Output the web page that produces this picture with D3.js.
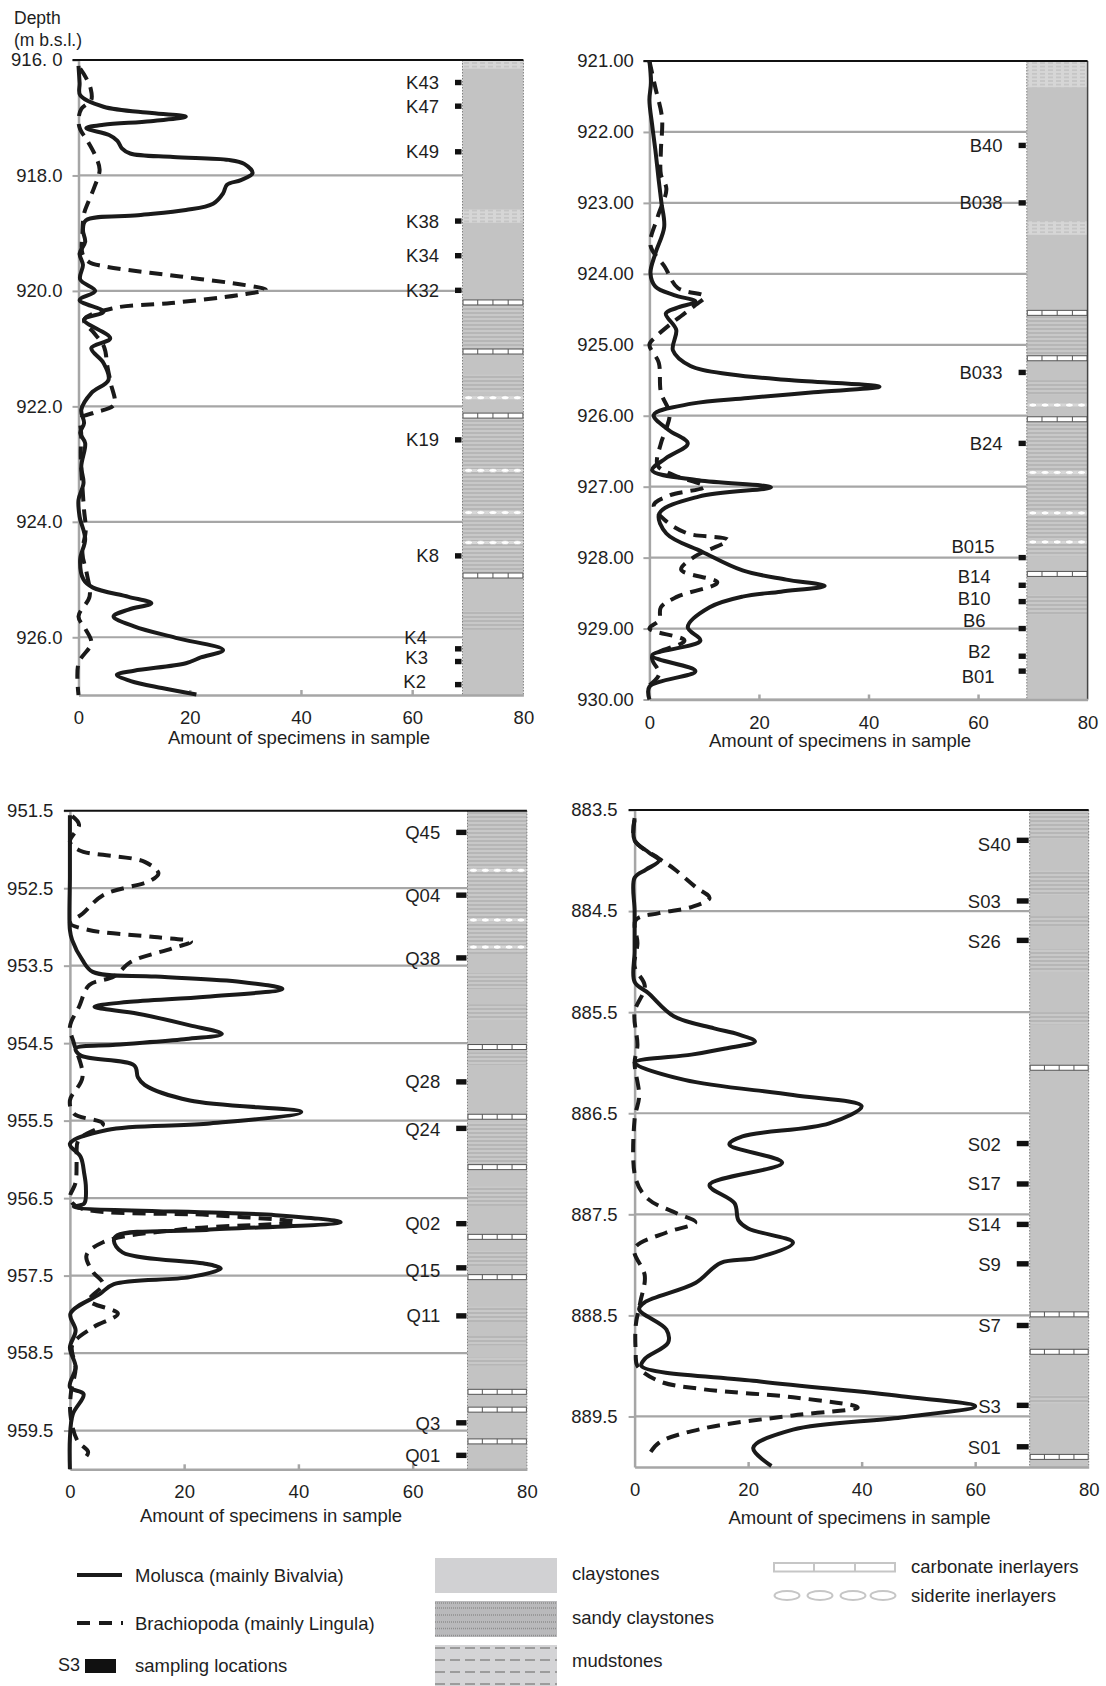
<!DOCTYPE html>
<html><head><meta charset="utf-8">
<script src="https://cdn.jsdelivr.net/npm/d3@7"></script>
<style>
body{margin:0;background:#fff}
text{font-family:"Liberation Sans",Arial,Helvetica,sans-serif;fill:#1e1e1e}
</style>
</head><body>
<svg id="c" width="1106" height="1686"></svg>
<script>
// ---------------- DATA ----------------
const xTicks = [0, 20, 40, 60, 80];
const xTitle = "Amount of specimens in sample";

// Panel K (top-left)
const kTicks = [916, 918, 920, 922, 924, 926];
const kTickLabels = ["916. 0", "918.0", "920.0", "922.0", "924.0", "926.0"];
const k_molusca = [[916.1,0],[916.4,0.2],[916.61,0.3],[916.81,4.5],[916.92,13.2],[916.98,19.3],[917.06,13],[917.12,4.5],[917.18,1.4],[917.3,5.5],[917.4,7],[917.53,7.8],[917.62,9.3],[917.68,17],[917.73,27],[917.8,29.8],[917.96,31.3],[918.08,29.2],[918.16,26.7],[918.31,26],[918.49,24.2],[918.6,19.3],[918.69,10.7],[918.78,1.3],[918.95,0.8],[919.15,1.2],[919.35,0.2],[919.55,0.8],[919.8,0.3],[920.0,3.0],[920.16,0.2],[920.36,4.5],[920.5,1.0],[920.82,5.7],[920.99,2.3],[921.25,4.5],[921.54,5.4],[921.77,2.3],[922.06,0.5],[922.29,1.0],[922.46,0.3],[922.64,1.2],[923.04,0.5],[923.33,0.9],[923.62,0],[923.91,0.2],[924.3,1.2],[924.65,0.3],[925.0,0.9],[925.14,2.6],[925.3,9],[925.41,13.1],[925.52,9],[925.64,6.3],[925.81,10],[926.01,17.5],[926.22,26],[926.35,22],[926.45,19.3],[926.58,10],[926.65,6.9],[926.76,9.4],[926.88,15],[926.99,21.2]];
const k_brachiopoda = [[916.15,0.3],[916.3,1.3],[916.5,2.2],[916.69,2.3],[916.85,0.5],[917.04,0],[917.2,0.3],[917.4,1.6],[917.65,3],[917.9,3.8],[918.19,2.9],[918.45,1.8],[918.66,1.0],[919.0,0.7],[919.35,0.7],[919.5,1.9],[919.57,4.4],[919.75,18.3],[919.9,30],[919.98,33.7],[920.07,29],[920.21,16.7],[920.3,6.2],[920.5,1.0],[920.73,2.8],[920.97,4.6],[921.31,5.2],[921.6,5.8],[921.97,6.4],[922.11,2.8],[922.2,0.5],[922.5,0.5],[922.81,0.4],[923.1,0.5],[923.39,0.7],[923.8,1.0],[924.14,1.3],[924.54,0.7],[924.9,1.5],[925.29,2.0],[925.64,0],[925.85,1.2],[926.1,2.3],[926.45,0],[927.0,0]];
const k_samples = [["K43",916.39,916.39],["K47",916.8,916.8],["K49",917.59,917.59],["K38",918.79,918.79],["K34",919.39,919.39],["K32",919.99,919.99],["K19",922.58,922.58],["K8",924.59,924.59],["K4",926.2,926.0],["K3",926.42,926.35],["K2",926.82,926.77]];
const k_litho = [["mud",916.0,916.15],["mud",918.59,918.82],["sandy",920.25,921.0],["sandy",921.45,921.75],["sandy",922.2,924.85],["sandy",925.55,925.87]];
const k_layers = [["carbonate",920.2],["carbonate",921.05],["carbonate",922.16],["carbonate",924.93],["siderite",921.85],["siderite",923.11],["siderite",923.84],["siderite",924.36]];

// Panel B (top-right)
const bTicks = [921, 922, 923, 924, 925, 926, 927, 928, 929, 930];
const bTickLabels = ["921.00","922.00","923.00","924.00","925.00","926.00","927.00","928.00","929.00","930.00"];
const b_molusca = [[921.0,0],[921.3,0.3],[921.55,0],[921.9,0.5],[922.26,1.1],[922.68,1.7],[923.0,2.2],[923.34,2.7],[923.71,1.1],[923.99,0.2],[924.18,1.1],[924.3,4.5],[924.39,8.4],[924.48,5],[924.56,3.0],[924.79,4.9],[925.08,4.3],[925.3,7.5],[925.42,15],[925.5,26],[925.59,42],[925.67,30],[925.75,18],[925.83,7.7],[925.99,0.8],[926.2,3.5],[926.39,7.0],[926.6,3],[926.77,0.5],[926.91,9.0],[927.01,22.2],[927.14,9.0],[927.38,1.8],[927.66,3.1],[927.92,9.7],[928.18,17],[928.31,25],[928.4,32],[928.48,24],[928.55,17],[928.7,11],[928.98,7],[929.17,9.3],[929.38,0.5],[929.6,8.4],[929.82,0],[930.0,0]];
const b_brachiopoda = [[921.0,0],[921.38,1.1],[921.8,2.3],[922.26,2.1],[922.6,2.1],[922.8,3.1],[923.2,1.5],[923.6,0.2],[923.9,2.8],[924.2,5.2],[924.32,10.1],[924.44,8.4],[924.7,4],[924.9,1.0],[925.0,0],[925.25,1.7],[925.67,2.1],[925.97,3.7],[926.2,3.0],[926.39,2.1],[926.7,1.5],[926.84,4.5],[927.0,10.1],[927.12,3.8],[927.26,0.8],[927.47,2.8],[927.66,7.0],[927.75,14.3],[927.98,8.4],[928.17,5.8],[928.35,12.4],[928.55,5.1],[928.7,2.1],[928.88,1.8],[929.0,0],[929.17,6.4],[929.4,0.5],[929.64,1.8],[929.8,0]];
const b_samples = [["B40",922.19,922.19],["B038",923.0,923.0],["B033",925.39,925.39],["B24",926.39,926.39],["B015",928.0,927.85],["B14",928.39,928.27],["B10",928.62,928.58],["B6",929.0,928.88],["B2",929.39,929.33],["B01",929.6,929.68]];
const b_litho = [["mud",921.0,921.37],["mud",923.26,923.45],["sandy",924.6,925.14],["sandy",925.5,925.7],["sandy",926.1,927.98],["sandy",928.53,928.8]];
const b_layers = [["carbonate",924.55],["carbonate",925.19],["carbonate",926.05],["carbonate",928.23],["siderite",925.85],["siderite",926.8],["siderite",927.37],["siderite",927.78]];

// Panel Q (bottom-left)
const qTicks = [951.5, 952.5, 953.5, 954.5, 955.5, 956.5, 957.5, 958.5, 959.5];
const qTickLabels = ["951.5","952.5","953.5","954.5","955.5","956.5","957.5","958.5","959.5"];
const q_molusca = [[951.56,0],[952.0,0],[952.35,0],[953.04,0],[953.17,0.4],[953.43,2.2],[953.58,4.0],[953.64,15],[953.71,30],[953.8,37.2],[953.9,23.9],[953.97,10],[954.03,4.3],[954.12,11.9],[954.27,21],[954.38,26.6],[954.45,20],[954.52,8],[954.57,1.0],[954.66,1.9],[954.79,11.3],[954.94,11.9],[955.04,13.1],[955.24,21],[955.39,40.5],[955.54,24],[955.62,6.5],[955.8,0],[955.97,1.9],[956.18,2.5],[956.36,2.8],[956.57,2.5],[956.61,0.7],[956.72,36],[956.81,47.4],[956.91,23.9],[956.98,8.3],[957.05,7.7],[957.2,9.2],[957.35,24],[957.41,26.4],[957.52,21],[957.61,7.7],[957.74,5.2],[957.99,0.1],[958.21,1.0],[958.43,0],[958.68,1.0],[958.94,0],[959.03,2.4],[959.29,0.5],[959.6,0],[960.0,0]];
const q_brachiopoda = [[951.57,0.4],[951.68,1.6],[951.9,0],[952.01,1.6],[952.16,13.1],[952.31,15.5],[952.4,14.2],[952.59,5.8],[952.83,2.2],[952.95,0],[953.04,3.3],[953.13,14.8],[953.19,21.2],[953.28,17.8],[953.45,10.7],[953.64,7.7],[953.75,3.4],[954.03,1.6],[954.29,0],[954.5,0.7],[954.94,2.2],[955.24,0],[955.41,0.7],[955.54,5.8],[955.75,1.5],[956.0,1.2],[956.3,1.0],[956.5,0],[956.62,1.5],[956.72,25],[956.81,39.6],[956.9,20],[957.07,5.8],[957.24,2.9],[957.45,4.0],[957.61,5.8],[957.82,3.4],[957.99,8.4],[958.17,4.0],[958.4,0.4],[958.7,1.0],[959.0,0.2],[959.3,0.1],[959.63,1.3],[959.78,3.2],[959.9,2.0]];
const q_samples = [["Q45",951.78,951.78],["Q04",952.59,952.59],["Q38",953.4,953.41],["Q28",955.0,955.0],["Q24",955.6,955.62],["Q02",956.83,956.83],["Q15",957.4,957.43],["Q11",958.02,958.02],["Q3",959.4,959.41],["Q01",959.82,959.82]];
const q_litho = [["sandy",951.5,953.35],["sandy",953.6,953.8],["sandy",954.0,954.2],["sandy",954.62,954.78],["sandy",955.52,956.05],["sandy",956.35,956.6],["sandy",957.18,957.38],["sandy",957.9,958.1],["sandy",958.28,958.4],["sandy",958.56,958.66]];
const q_layers = [["carbonate",954.55],["carbonate",955.45],["carbonate",956.1],["carbonate",957.0],["carbonate",957.52],["carbonate",959.0],["carbonate",959.23],["carbonate",959.64],["siderite",952.27],["siderite",952.91],["siderite",953.26]];

// Panel S (bottom-right)
const sTicks = [883.5, 884.5, 885.5, 886.5, 887.5, 888.5, 889.5];
const sTickLabels = ["883.5","884.5","885.5","886.5","887.5","888.5","889.5"];
const s_molusca = [[883.58,0],[883.8,0],[883.92,2.5],[884.0,4.3],[884.09,2],[884.17,0],[884.5,0],[884.9,0],[885.2,0],[885.31,2.4],[885.54,6.9],[885.66,14],[885.72,18.3],[885.79,21.2],[885.86,16],[885.92,10],[886.0,0],[886.17,8.8],[886.32,27.9],[886.43,40],[886.6,34.3],[886.73,19],[886.81,16.7],[886.99,26],[887.21,13.2],[887.39,17.6],[887.56,18.3],[887.64,20],[887.78,27.9],[887.93,21.5],[887.98,15.2],[888.18,10.7],[888.37,1.8],[888.44,0.8],[888.64,5.6],[888.77,5.9],[888.93,1.8],[889.0,1.2],[889.15,21.5],[889.3,47],[889.4,60],[889.51,47],[889.63,27.9],[889.81,20.9],[889.99,24.1]];
const s_brachiopoda = [[883.6,0],[883.8,0],[883.98,4.3],[884.08,6.9],[884.26,10.7],[884.37,13.2],[884.46,10],[884.52,4.3],[884.59,0.2],[884.82,0.5],[885.05,0],[885.24,1.8],[885.5,0],[885.83,0.5],[886.0,0],[886.33,0.8],[886.56,0],[887.15,0.2],[887.35,2.4],[887.49,7.4],[887.58,10.7],[887.68,5.6],[887.84,0],[888.11,1.8],[888.37,1.0],[888.6,0.2],[888.86,0.2],[889.0,0.5],[889.15,4.3],[889.23,12],[889.31,27.9],[889.41,39.3],[889.49,27.9],[889.62,12],[889.76,4.3],[889.89,2.4]];
const s_samples = [["S40",883.8,883.84],["S03",884.4,884.41],["S26",884.79,884.8],["S02",886.8,886.81],["S17",887.2,887.2],["S14",887.6,887.6],["S9",887.99,888.0],["S7",888.6,888.6],["S3",889.39,889.4],["S01",889.8,889.81]];
const s_litho = [["sandy",883.53,883.78],["sandy",884.1,884.34],["sandy",884.55,884.65],["sandy",884.88,885.1],["sandy",885.5,885.62],["sandy",889.29,889.37]];
const s_layers = [["carbonate",886.05],["carbonate",888.49],["carbonate",888.86],["carbonate",889.9]];

// Legend texts
const legendSeries = ["Molusca (mainly Bivalvia)", "Brachiopoda (mainly Lingula)", "sampling locations"];
const legendLitho = ["claystones", "sandy claystones", "mudstones"];
const legendLayers = ["carbonate inerlayers", "siderite inerlayers"];

// ---------------- LAYOUT ----------------
const labelNudge = {K4:-12,K3:-11,K2:-13,B015:-8,B14:-12,B10:-12,B6:-17,B2:-12,B01:-8,S40:10};
const panels = [
  {x0:78.5, x80:523.4, yTop:60, yBot:695, domain:[916,927], ticks:kTicks, labels:kTickLabels, col:69.05, mol:k_molusca, bra:k_brachiopoda, samples:k_samples, litho:k_litho, layers:k_layers, mw:6.5, titleX:299, titleY:737, tickPad:10, solidRight:false},
  {x0:649.4, x80:1087.6, yTop:61, yBot:699.5, domain:[921,930], ticks:bTicks, labels:bTickLabels, col:68.9, mol:b_molusca, bra:b_brachiopoda, samples:b_samples, litho:b_litho, layers:b_layers, mw:7.2, titleX:840, titleY:740, tickPad:9.5, solidRight:true},
  {x0:69.9, x80:526.9, yTop:810.7, yBot:1469.3, domain:[951.5,960], ticks:qTicks, labels:qTickLabels, col:69.6, mol:q_molusca, bra:q_brachiopoda, samples:q_samples, litho:q_litho, layers:q_layers, mw:10.3, titleX:271, titleY:1515, tickPad:10.5, solidRight:false},
  {x0:634.6, x80:1088.7, yTop:810, yBot:1467, domain:[883.5,890], ticks:sTicks, labels:sTickLabels, col:69.6, mol:s_molusca, bra:s_brachiopoda, samples:s_samples, litho:s_litho, layers:s_layers, mw:11.9, titleX:859.5, titleY:1517, tickPad:11, solidRight:false}
];

const svg = d3.select("#c");
const defs = svg.append("defs");
const CLAY = "#c3c3c3", GRID = "#a6a6a6", INK = "#1a1a1a";
const FS = 18.5;

const ps = defs.append("pattern").attr("id","sandy").attr("patternUnits","userSpaceOnUse").attr("width",8).attr("height",4);
ps.append("rect").attr("width",8).attr("height",4).attr("fill",CLAY);
ps.append("line").attr("x1",0).attr("x2",8).attr("y1",1).attr("y2",1).attr("stroke","#a2a2a2").attr("stroke-width",0.8);
ps.append("line").attr("x1",0).attr("x2",8).attr("y1",3).attr("y2",3).attr("stroke","#d4d4d4").attr("stroke-width",0.6);
const pm = defs.append("pattern").attr("id","mud").attr("patternUnits","userSpaceOnUse").attr("width",8).attr("height",3.6);
pm.append("rect").attr("width",8).attr("height",3.6).attr("fill","#d6d6d6");
pm.append("line").attr("x1",0).attr("x2",5).attr("y1",1.8).attr("y2",1.8).attr("stroke","#b3b3b3").attr("stroke-width",0.9);

panels.forEach(p => {
  const x = d3.scaleLinear().domain([0,80]).range([p.x0, p.x80]);
  const y = d3.scaleLinear().domain(p.domain).range([p.yTop, p.yBot]);
  const g = svg.append("g");
  const cx = x(p.col), cw = x(80) - x(p.col);

  // lithology column
  const lg = g.append("g");
  lg.append("rect").attr("x",cx).attr("y",y(p.domain[0])).attr("width",cw).attr("height",y(p.domain[1])-y(p.domain[0])).attr("fill",CLAY);
  lg.selectAll("rect.iv").data(p.litho).join("rect").attr("class","iv")
    .attr("x",cx).attr("width",cw).attr("y",d=>y(d[1])).attr("height",d=>y(d[2])-y(d[1]))
    .attr("fill",d=>d[0]==="sandy"?"url(#sandy)":"url(#mud)");
  const carb = p.layers.filter(d=>d[0]==="carbonate");
  const sid = p.layers.filter(d=>d[0]==="siderite");
  carb.forEach(d => {
    const yy = y(d[1]);
    lg.append("rect").attr("x",cx+0.5).attr("y",yy-2.5).attr("width",cw-1).attr("height",5).attr("fill","#fff").attr("stroke","#555").attr("stroke-width",1);
    [0.25,0.5,0.75].forEach(f => lg.append("line").attr("x1",cx+cw*f).attr("x2",cx+cw*f).attr("y1",yy-2.5).attr("y2",yy+2.5).attr("stroke","#555").attr("stroke-width",1));
  });
  sid.forEach(d => {
    const yy = y(d[1]);
    lg.append("line").attr("x1",cx).attr("x2",cx+cw).attr("y1",yy).attr("y2",yy).attr("stroke","#d8d8d8").attr("stroke-width",3);
    d3.range(5).forEach(i => lg.append("ellipse").attr("cx",cx+cw*(i+0.5)/5).attr("cy",yy).attr("rx",4).attr("ry",2).attr("fill","#fff").attr("stroke","#b0b0b0").attr("stroke-width",0.5));
  });
  // column borders
  lg.append("line").attr("x1",cx).attr("x2",cx).attr("y1",p.yTop).attr("y2",p.yBot).attr("stroke","#808080").attr("stroke-width",1).attr("stroke-dasharray","1.5,1.5");
  if (p.solidRight) {
    lg.append("line").attr("x1",cx+cw).attr("x2",cx+cw).attr("y1",p.yTop).attr("y2",p.yBot).attr("stroke","#444").attr("stroke-width",1.5);
  } else {
    lg.append("line").attr("x1",cx+cw).attr("x2",cx+cw).attr("y1",p.yTop).attr("y2",p.yBot).attr("stroke","#808080").attr("stroke-width",1).attr("stroke-dasharray","1.5,1.5");
  }

  // gridlines
  g.selectAll("line.grid").data(p.ticks.slice(1)).join("line").attr("class","grid")
    .attr("x1",p.x0).attr("x2",cx).attr("y1",d=>y(d)).attr("y2",d=>y(d))
    .attr("stroke",GRID).attr("stroke-width",2.2);

  // left axis
  const ya = g.append("g").attr("transform",`translate(${p.x0},0)`)
    .call(d3.axisLeft(y).tickValues(p.ticks).tickFormat((d,i)=>p.labels[i]).tickSize(6).tickSizeOuter(0).tickPadding(p.tickPad));
  ya.select(".domain").attr("stroke",GRID).attr("stroke-width",2.5);
  ya.selectAll(".tick line").attr("stroke",GRID).attr("stroke-width",2);
  ya.selectAll(".tick text").attr("font-size",FS).attr("font-family","Liberation Sans, Arial, sans-serif").attr("fill","#1e1e1e");

  // bottom axis
  const xa = g.append("g").attr("transform",`translate(0,${p.yBot})`)
    .call(d3.axisBottom(x).tickValues(xTicks).tickFormat(d3.format("d")).tickSize(-5).tickSizeOuter(0).tickPadding(16));
  xa.select(".domain").attr("stroke",GRID).attr("stroke-width",2.5);
  xa.selectAll(".tick line").attr("stroke",GRID).attr("stroke-width",2.5);
  xa.selectAll(".tick text").attr("font-size",FS).attr("font-family","Liberation Sans, Arial, sans-serif").attr("fill","#1e1e1e");
  xa.selectAll(".tick").filter(d=>d===0||d===80).select("line").remove();

  // top black line
  g.append("line").attr("x1",p.x0-6).attr("x2",p.x80).attr("y1",p.yTop).attr("y2",p.yTop).attr("stroke","#111").attr("stroke-width",2);

  // axis title
  g.append("text").attr("x",p.titleX).attr("y",p.titleY).attr("text-anchor","middle").attr("dominant-baseline","central").attr("font-size",FS).text(xTitle);

  // samples
  g.selectAll("rect.smp").data(p.samples).join("rect").attr("class","smp")
    .attr("x",cx-p.mw-1).attr("width",p.mw).attr("y",d=>y(d[1])-2.7).attr("height",5.4).attr("fill","#111");
  g.selectAll("text.smp").data(p.samples).join("text").attr("class","smp")
    .attr("x",d=>cx-p.mw-17+(labelNudge[d[0]]||0)).attr("y",d=>y(d[2])).attr("text-anchor","end").attr("dominant-baseline","central")
    .attr("font-size",FS).text(d=>d[0]);

  // curves
  const line = d3.line().x(d=>x(d[1])).y(d=>y(d[0])).curve(d3.curveCatmullRom.alpha(0.5));
  g.append("path").attr("d",line(p.mol)).attr("fill","none").attr("stroke",INK).attr("stroke-width",4).attr("stroke-linejoin","round");
  g.append("path").attr("d",line(p.bra)).attr("fill","none").attr("stroke",INK).attr("stroke-width",4).attr("stroke-dasharray","13,8");
});

// Depth heading
svg.append("text").attr("x",14).attr("y",24).attr("font-size",17.5).text("Depth");
svg.append("text").attr("x",14).attr("y",46).attr("font-size",17.5).text("(m b.s.l.)");

// ---------------- LEGEND ----------------
const L = svg.append("g");
L.append("line").attr("x1",77).attr("x2",122).attr("y1",1575).attr("y2",1575).attr("stroke",INK).attr("stroke-width",4);
L.append("line").attr("x1",77).attr("x2",124).attr("y1",1623).attr("y2",1623).attr("stroke",INK).attr("stroke-width",4).attr("stroke-dasharray","13,9,13,9,2,9");
L.append("text").attr("x",58).attr("y",1665).attr("dominant-baseline","central").attr("font-size",18).text("S3");
L.append("rect").attr("x",85).attr("y",1659).attr("width",31).attr("height",14).attr("fill","#111");
[1575,1623,1665].forEach((yy,i)=>L.append("text").attr("x",135).attr("y",yy).attr("dominant-baseline","central").attr("font-size",18.5).text(legendSeries[i]));

// litho swatches
L.append("rect").attr("x",435).attr("y",1558).attr("width",122).attr("height",35).attr("fill","#d1d1d3");
L.append("rect").attr("x",435).attr("y",1601).attr("width",122).attr("height",36).attr("fill","#b9b9bb");
[1603,1608,1615,1622,1628.5,1635.5].forEach(yy=>L.append("line").attr("x1",435).attr("x2",557).attr("y1",yy).attr("y2",yy).attr("stroke","#8e8e8e").attr("stroke-width",1.6).attr("stroke-dasharray","1,1"));
L.append("rect").attr("x",435).attr("y",1645).attr("width",122).attr("height",41).attr("fill","#d4d4d6");
[1648,1660,1672,1684].forEach(yy=>L.append("line").attr("x1",435).attr("x2",557).attr("y1",yy).attr("y2",yy).attr("stroke","#9c9c9c").attr("stroke-width",2.2).attr("stroke-dasharray","10,5"));
[1573,1617,1660].forEach((yy,i)=>L.append("text").attr("x",572).attr("y",yy).attr("dominant-baseline","central").attr("font-size",18.5).text(legendLitho[i]));

// layer swatches
L.append("rect").attr("x",774).attr("y",1563).attr("width",121).attr("height",8.5).attr("fill","#fff").attr("stroke","#c6c6c6").attr("stroke-width",2);
[814,855].forEach(xx=>L.append("line").attr("x1",xx).attr("x2",xx).attr("y1",1563).attr("y2",1571.5).attr("stroke","#c6c6c6").attr("stroke-width",2));
[787,820,853,883].forEach(xx=>L.append("ellipse").attr("cx",xx).attr("cy",1595.5).attr("rx",12.5).attr("ry",4.5).attr("fill","#fff").attr("stroke","#c6c6c6").attr("stroke-width",2));
[1566,1595].forEach((yy,i)=>L.append("text").attr("x",911).attr("y",yy).attr("dominant-baseline","central").attr("font-size",18.5).text(legendLayers[i]));
</script>
</body></html>
